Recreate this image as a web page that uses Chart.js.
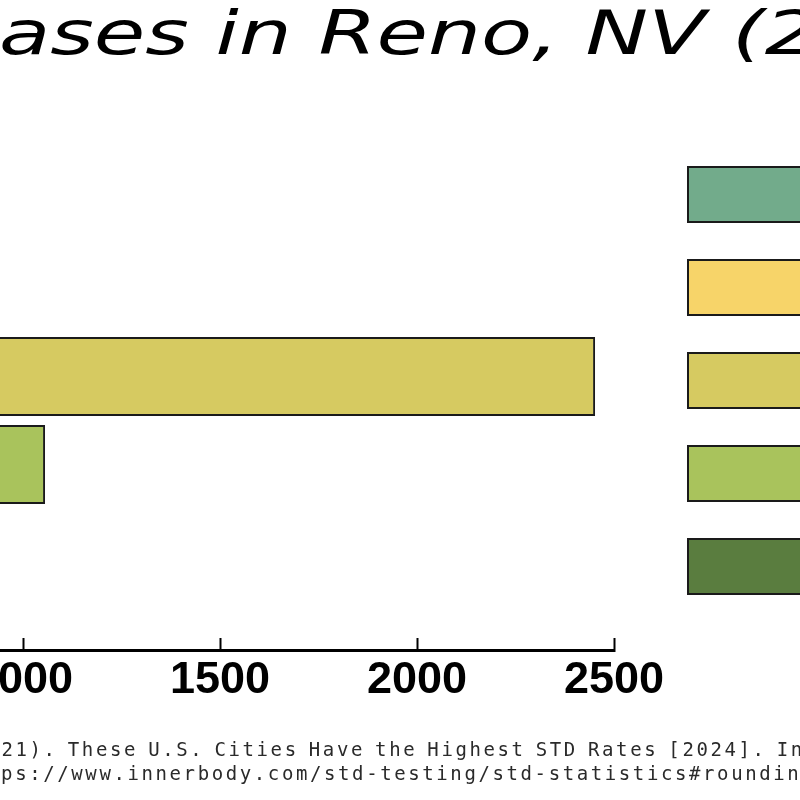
<!DOCTYPE html>
<html>
<head>
<meta charset="utf-8">
<script src="https://cdn.jsdelivr.net/npm/chart.js@4.4.1/dist/chart.umd.min.js"></script>
<style>
  html, body { margin: 0; padding: 0; background: #ffffff; overflow: hidden; width: 800px; height: 800px; }
  #wrap { position: absolute; left: -753px; top: 0; }
</style>
</head>
<body>
<div id="wrap"><canvas id="stdChart" width="1823" height="800"></canvas></div>
<script>
// STD cases reported in Reno, NV (2021)
const categories = ['HIV', 'Primary & Secondary Syphilis', 'Chlamydia', 'Gonorrhea', 'Congenital Syphilis'];
const caseCounts = [85, 310, 2452, 1056, 12];
const barColors = ['#72ab8b', '#f7d469', '#d6ca61', '#a9c35c', '#5a7d3f'];
const xTicks = [0, 500, 1000, 1500, 2000, 2500];

const chartTitle = 'Reported STD Cases in Reno, NV (2021)';
const captionLines = [
    'Source: Innerbody Research. (2021). These U.S. Cities Have the Highest STD Rates [2024]. Innerbody.',
    'https://www.innerbody.com/std-testing/std-statistics#rounding-up'
];

// title drawn wide (reference uses an extended italic face)
const wideTitle = {
    id: 'wideTitle',
    afterDraw(chart) {
        const ctx = chart.ctx;
        const block = chart.titleBlock;
        ctx.save();
        ctx.font = 'italic 60px "DejaVu Sans"';
        ctx.fillStyle = '#000000';
        ctx.textAlign = 'center';
        ctx.textBaseline = 'alphabetic';
        ctx.translate(chart.width / 2 + 13, block.top + 54);
        ctx.scale(1.395, 1);
        ctx.fillText(chartTitle, 0, 0);
        ctx.restore();
    }
};

// source caption with hanging indent
const caption = {
    id: 'caption',
    afterDraw(chart) {
        const ctx = chart.ctx;
        const x = chart.chartArea.left - 51;
        ctx.save();
        ctx.font = '19px "DejaVu Sans Mono"';
        ctx.letterSpacing = '2.6px';
        ctx.wordSpacing = '-3.9px';
        ctx.fillStyle = '#2a2a2a';
        ctx.textAlign = 'left';
        ctx.textBaseline = 'alphabetic';
        captionLines.forEach((line, i) => {
            ctx.fillText(line, i === 0 ? x : x + 381, chart.height - 44 + i * 24);
        });
        ctx.restore();
    }
};

const ctx = document.getElementById('stdChart').getContext('2d');

new Chart(ctx, {
    type: 'bar',
    data: {
        datasets: [{
            label: 'Cases',
            data: categories.map((c, i) => ({ x: caseCounts[i], y: i })),
            backgroundColor: barColors,
            borderColor: '#1a1a1a',
            borderWidth: 2,
            borderSkipped: false,
            categoryPercentage: 1,
            barPercentage: 0.9
        }]
    },
    options: {
        indexAxis: 'y',
        responsive: false,
        animation: false,
        layout: { padding: 0 },
        scales: {
            x: {
                type: 'linear',
                min: 0,
                max: 2500,
                afterBuildTicks: s => { s.ticks = xTicks.map(v => ({ value: v })); },
                afterFit: s => { s.height = 150; },
                grid: {
                    drawOnChartArea: false,
                    drawTicks: true,
                    tickLength: -12,
                    tickWidth: 2,
                    tickColor: '#000000'
                },
                border: { display: true, color: '#000000', width: 3 },
                ticks: {
                    padding: 16,
                    color: '#000000',
                    font: { family: '"Liberation Sans", Arial, sans-serif', size: 45, weight: 'bold' },
                    callback: v => String(v)
                }
            },
            y: {
                type: 'linear',
                reverse: true,
                offset: false,
                min: -1.017,
                max: 5.108,
                position: 'left',
                afterBuildTicks: s => { s.ticks = categories.map((c, i) => ({ value: i })); },
                afterFit: s => { s.width = 382; },
                grid: { display: false, offset: false },
                border: { display: false },
                ticks: {
                    color: '#000000',
                    font: { family: '"Liberation Sans", Arial, sans-serif', size: 26 },
                    callback: v => categories[v]
                }
            },
            gap: {
                type: 'linear',
                position: 'right',
                grid: { display: false },
                border: { display: false },
                ticks: { display: false },
                afterFit: s => { s.width = 36; }
            }
        },
        plugins: {
            title: {
                display: true,
                text: chartTitle,
                color: 'rgba(0,0,0,0)',
                font: { family: '"DejaVu Sans"', size: 62, style: 'italic', lineHeight: 1.2 },
                padding: { top: 0, bottom: 36.6 }
            },
            legend: {
                display: true,
                position: 'right',
                align: 'center',
                fullSize: false,
                maxWidth: 420,
                labels: {
                    boxWidth: 150,
                    boxHeight: 55,
                    padding: 38,
                    color: '#000000',
                    font: { family: '"Liberation Sans", Arial, sans-serif', size: 28 },
                    generateLabels: () => categories.map((c, i) => ({
                        text: c,
                        fillStyle: barColors[i],
                        strokeStyle: '#1a1a1a',
                        lineWidth: 2,
                        hidden: false,
                        index: i,
                        datasetIndex: 0
                    }))
                }
            },
            tooltip: { enabled: false }
        }
    },
    plugins: [wideTitle, caption]
});
</script>
</body>
</html>
